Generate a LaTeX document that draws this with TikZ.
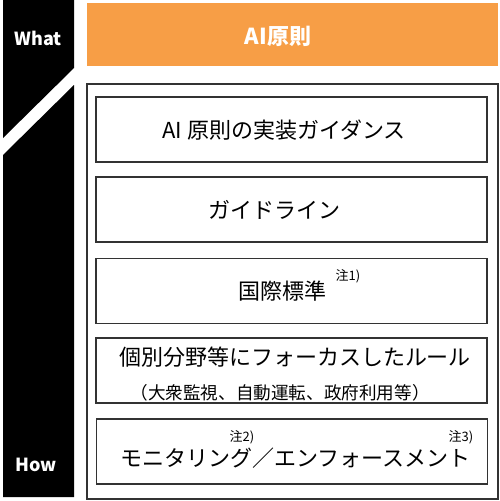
\documentclass[tikz,border=0pt]{standalone}
\usepackage{fontspec}
\setmainfont{Noto Sans CJK JP}
\usepackage{tikz}
\definecolor{principle}{RGB}{247,158,70}

\begin{document}
\begin{tikzpicture}
    [x = 1pt, y = -1pt, every node/.style = {inner sep = 0pt},
     layer/.style = {draw = black!80, line width = 1.2pt, minimum width = 391pt, minimum height = 65pt},
     big/.style = {font = \fontsize{22}{24}\selectfont},
     small/.style = {font = \fontsize{17.6}{19}\selectfont},
     note/.style = {font = \fontsize{13}{14}\selectfont},
     tag/.style = {text = white, font = \bfseries\fontsize{18}{20}\selectfont}]
    \useasboundingbox (0,0) rectangle (500,501);
    % what / how bar
    \fill (3,0) -- (74,0) -- (74,68) -- (3,138) -- cycle;
    \fill (3,155) -- (74,85) -- (74,497) -- (3,497) -- cycle;
    \node[tag] (what) at (38,38) {What};
    \node[tag] (how) at (36,465) {How};
    % principle
    \node[fill = principle, minimum width = 411pt, minimum height = 63pt] (principle) at (292.5,34.5) {};
    \node[tag, font = \bfseries\fontsize{22}{24}\selectfont] (principletext) at (278,36) {AI原則};
    \node[layer, minimum width = 411pt, minimum height = 415pt] (frame) at (292.5,291.5) {};
    % layers
    \node[layer] (guidance) at (291.5,129.5) {};
    \node[layer] (guideline) at (291.5,209.5) {};
    \node[layer] (standard) at (291.5,291) {};
    \node[layer] (rule) at (291.5,370.5) {};
    \node[layer] (monitor) at (292,451.5) {};
    \node[big] (guidancetext) at (284,130) {AI 原則の実装ガイダンス};
    \node[big] (guidelinetext) at (274,209.5) {ガイドライン};
    \node[big] (standardtext) at (282.5,291) {国際標準};
    \node[note] (note1) at (348,276) {注1)};
    \node[big] (ruletext) at (295,357) {個別分野等にフォーカスしたルール};
    \node[small] (rulesub) at (280,393) {（大衆監視、自動運転、政府利用等）};
    \node[big] (monitortext) at (295.5,458) {モニタリング／エンフォースメント};
    \node[note] (note2) at (242,437) {注2)};
    \node[note] (note3) at (461,437) {注3)};
  \end{tikzpicture}
\end{document}
